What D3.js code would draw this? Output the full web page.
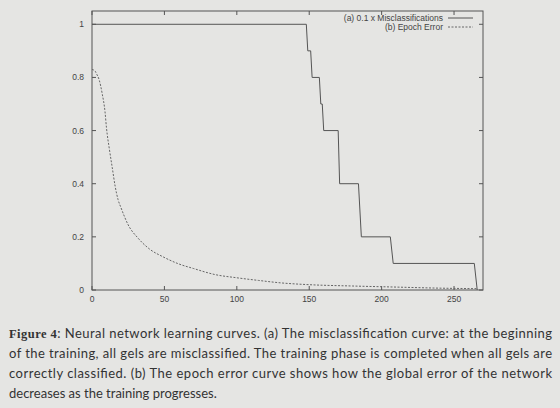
<!DOCTYPE html>
<html>
<head>
<meta charset="utf-8">
<script src="https://cdn.jsdelivr.net/npm/d3@7"></script>
<style>
  html, body { margin: 0; padding: 0; background: #e5e5e3; }
  svg { display: block; }
</style>
</head>
<body>
<svg id="chart" width="560" height="408"></svg>
<script>
// data
const missEpochs = [0, 148, 149, 151, 152, 157, 158, 159, 160, 170, 171, 184, 186, 206, 208, 264, 266];
const missValues = [1, 1, 0.9, 0.9, 0.8, 0.8, 0.7, 0.7, 0.6, 0.6, 0.4, 0.4, 0.2, 0.2, 0.1, 0.1, 0];

const errEpochs = [0, 2, 3, 5, 7, 9, 10, 12, 14, 16, 18, 20, 25, 32, 40, 49, 60, 70, 85, 100, 115, 130, 150, 180, 210, 240, 266];
const errValues = [0.83, 0.825, 0.815, 0.79, 0.74, 0.67, 0.61, 0.53, 0.46, 0.39, 0.34, 0.31, 0.245, 0.194, 0.153, 0.125, 0.098, 0.081, 0.058, 0.046, 0.036, 0.027, 0.02, 0.015, 0.011, 0.007, 0.005];

const xTicks = [0, 50, 100, 150, 200, 250];
const yTicks = [0, 0.2, 0.4, 0.6, 0.8, 1];
const legendLabels = ["(a) 0.1 x Misclassifications", "(b) Epoch Error"];

const captionLabel = "Figure 4";
const captionLines = [
  ": Neural network learning curves. (a) The misclassification curve: at the beginning",
  "of the training, all gels are misclassified. The training phase is completed when all gels are",
  "correctly classified. (b) The epoch error curve shows how the global error of the network",
  "decreases as the training progresses."
];

const svg = d3.select("#chart");
const m = {left: 92, right: 483, top: 11, bottom: 290};

const x = d3.scaleLinear().domain([0, 270]).range([m.left, m.right]);
const y = d3.scaleLinear().domain([0, 1.05]).range([m.bottom, m.top]);

const ink = "#555";
const font = "'Liberation Sans', Arial, sans-serif";

// frame
svg.append("rect")
  .attr("x", m.left).attr("y", m.top)
  .attr("width", m.right - m.left).attr("height", m.bottom - m.top)
  .attr("fill", "none").attr("stroke", ink).attr("stroke-width", 1);

// ticks on all four sides, pointing inward (gnuplot style)
const tl = 4;
xTicks.forEach(t => {
  svg.append("line").attr("x1", x(t)).attr("x2", x(t)).attr("y1", m.bottom).attr("y2", m.bottom - tl).attr("stroke", ink);
  svg.append("line").attr("x1", x(t)).attr("x2", x(t)).attr("y1", m.top).attr("y2", m.top + tl).attr("stroke", ink);
});
yTicks.forEach(t => {
  svg.append("line").attr("x1", m.left).attr("x2", m.left + tl).attr("y1", y(t)).attr("y2", y(t)).attr("stroke", ink);
  svg.append("line").attr("x1", m.right).attr("x2", m.right - tl).attr("y1", y(t)).attr("y2", y(t)).attr("stroke", ink);
});

// tick labels
svg.selectAll(".xl").data(xTicks).enter().append("text")
  .attr("x", d => x(d)).attr("y", 302)
  .attr("text-anchor", "middle")
  .attr("font-family", font).attr("font-size", 8.5).attr("fill", "#444")
  .text(d => d);

svg.selectAll(".yl").data(yTicks).enter().append("text")
  .attr("x", 84).attr("y", d => y(d) + 3)
  .attr("text-anchor", "end")
  .attr("font-family", font).attr("font-size", 8.5).attr("fill", "#444")
  .text(d => d);

// curves
const missData = missEpochs.map((e, i) => [e, missValues[i]]);
const errData = errEpochs.map((e, i) => [e, errValues[i]]);

svg.append("path")
  .datum(missData)
  .attr("d", d3.line().x(d => x(d[0])).y(d => y(d[1])))
  .attr("fill", "none").attr("stroke", ink).attr("stroke-width", 1);

svg.append("path")
  .datum(errData)
  .attr("d", d3.line().curve(d3.curveMonotoneX).x(d => x(d[0])).y(d => y(d[1])))
  .attr("fill", "none").attr("stroke", "#666").attr("stroke-width", 1)
  .attr("stroke-dasharray", "2,1.5");

// legend
const legY = [18, 27];
legendLabels.forEach((lab, i) => {
  svg.append("text")
    .attr("x", 443).attr("y", legY[i] + 3)
    .attr("text-anchor", "end")
    .attr("font-family", font).attr("font-size", 8.5).attr("fill", "#444")
    .text(lab);
  svg.append("line")
    .attr("x1", 448).attr("x2", 473).attr("y1", legY[i]).attr("y2", legY[i])
    .attr("stroke", i === 0 ? ink : "#666").attr("stroke-width", 1)
    .attr("stroke-dasharray", i === 0 ? null : "2,1.5");
});

// caption, justified to the text block width
const capFont = "Lato, 'Open Sans', sans-serif";
const capTop = 337.5, capStep = 20;

captionLines.forEach((line, i) => {
  const t = svg.append("text")
    .attr("x", 9).attr("y", capTop + i * capStep)
    .attr("font-family", capFont).attr("font-size", 13).attr("fill", "#333");
  if (i === 0) {
    t.append("tspan")
      .attr("font-family", "'Liberation Serif', 'DejaVu Serif', serif")
      .attr("font-weight", "bold").attr("font-size", 12.5)
      .text(captionLabel);
    t.append("tspan").text(line);
  } else {
    t.text(line);
  }
  if (i < captionLines.length - 1) {
    t.attr("textLength", 543).attr("lengthAdjust", "spacing");
  }
});
</script>
</body>
</html>
